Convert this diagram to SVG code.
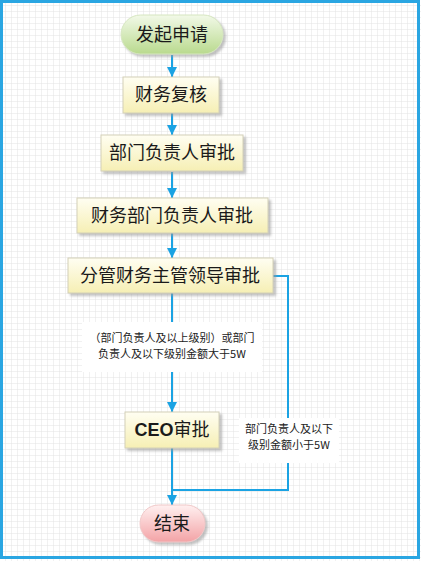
<svg xmlns="http://www.w3.org/2000/svg" width="421" height="561" viewBox="0 0 421 561">
<defs>
<pattern id="grid" width="6" height="6" patternUnits="userSpaceOnUse">
<rect width="6" height="6" fill="#ffffff"/>
<path d="M6 0V6M0 6H6" stroke="#e4e4e4" stroke-width="1" fill="none"/>
</pattern>
<linearGradient id="gBox" x1="0" y1="0" x2="0" y2="1">
<stop offset="0" stop-color="#fffef2"/>
<stop offset="1" stop-color="#f6efb4"/>
</linearGradient>
<linearGradient id="gStart" x1="0" y1="0" x2="0" y2="1">
<stop offset="0" stop-color="#f2f9e8"/>
<stop offset="1" stop-color="#b9da8e"/>
</linearGradient>
<linearGradient id="gEnd" x1="0" y1="0" x2="0" y2="1">
<stop offset="0" stop-color="#fff0f0"/>
<stop offset="1" stop-color="#f3a3a6"/>
</linearGradient>
<filter id="sh" x="-20%" y="-20%" width="140%" height="150%">
<feDropShadow dx="2.5" dy="2.5" stdDeviation="1.2" flood-color="#9a9a9a" flood-opacity="0.6"/>
</filter>
<marker id="arr" viewBox="0 0 10 10" refX="10" refY="5" markerWidth="5" markerHeight="5" orient="auto" markerUnits="strokeWidth">
<path d="M0 0L10 5L0 10z" fill="#1ba3e3"/>
</marker>
</defs>
<style>
.box{fill:url(#gBox);stroke:#d3d0b8;stroke-width:1;filter:url(#sh)}
.t{font-family:"Noto Sans CJK SC","Liberation Sans",sans-serif;font-size:18px;fill:#1a1a1a;text-anchor:middle}
.lbl{font-family:"Noto Sans CJK SC","Liberation Sans",sans-serif;font-size:11px;fill:#222;text-anchor:middle}
.c{fill:none;stroke:#1ba3e3;stroke-width:2}
</style>
<rect x="0" y="0" width="421" height="561" fill="url(#grid)"/>
<rect x="1.5" y="1.5" width="417" height="556" fill="none" stroke="#2aa6e2" stroke-width="3"/>

<g id="connectors">
<path class="c" d="M172 55V77" marker-end="url(#arr)"/>
<path class="c" d="M172 113V135" marker-end="url(#arr)"/>
<path class="c" d="M172 172V198" marker-end="url(#arr)"/>
<path class="c" d="M172 233V258" marker-end="url(#arr)"/>
<path class="c" d="M172 293V412" marker-end="url(#arr)"/>
<path class="c" d="M172 448V505" marker-end="url(#arr)"/>
<path class="c" d="M273 276H288V490H172"/>
</g>

<g id="label1">
<rect x="82" y="322" width="180" height="50" fill="#ffffff"/>
<text class="lbl" x="172" y="342">（部门负责人及以上级别）或部门</text>
<text class="lbl" x="172" y="358">负责人及以下级别金额大于5W</text>
</g>
<g id="label2">
<rect x="239" y="418" width="100" height="45" fill="#ffffff"/>
<text class="lbl" x="289" y="433">部门负责人及以下</text>
<text class="lbl" x="289" y="449">级别金额小于5W</text>
</g>

<g id="start">
<rect x="121" y="15" width="102" height="39" rx="19.5" fill="url(#gStart)" stroke="#d6e6c0" stroke-width="1" filter="url(#sh)"/>
<text class="t" x="172" y="41">发起申请</text>
</g>
<g id="n1">
<rect class="box" x="123" y="77" width="96" height="36"/>
<text class="t" x="171" y="101">财务复核</text>
</g>
<g id="n2">
<rect class="box" x="101" y="135" width="142" height="36"/>
<text class="t" x="172" y="159">部门负责人审批</text>
</g>
<g id="n3">
<rect class="box" x="77" y="198" width="191" height="35"/>
<text class="t" x="172" y="222">财务部门负责人审批</text>
</g>
<g id="n4">
<rect class="box" x="68" y="258" width="205" height="35"/>
<text class="t" x="170" y="282">分管财务主管领导审批</text>
</g>
<g id="n5">
<rect class="box" x="125" y="412" width="94" height="36"/>
<text class="t" x="172" y="436"><tspan font-family="'Liberation Sans',sans-serif" font-weight="bold">CEO</tspan>审批</text>
</g>
<g id="end">
<rect x="140" y="505" width="65" height="37" rx="18.5" fill="url(#gEnd)" stroke="#f0c8c8" stroke-width="1" filter="url(#sh)"/>
<text class="t" x="172" y="530">结束</text>
</g>
</svg>
